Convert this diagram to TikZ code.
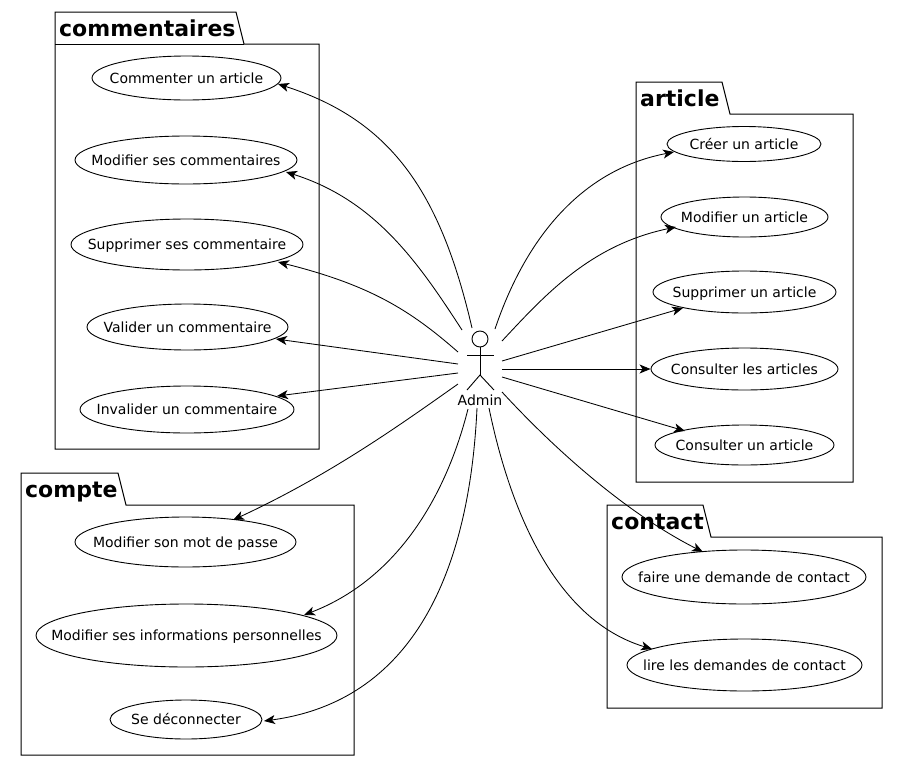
\documentclass[tikz,border=0pt]{standalone}
\usepackage{fontspec}
\setmainfont{DejaVu Sans}
\usetikzlibrary{arrows.meta,shapes.geometric}
\tikzset{
  uc/.style={draw=black,ellipse,inner sep=0pt,line width=0.9pt,font=\fontsize{14}{16}\selectfont},
  pkg/.style={draw=black,line width=1pt},
  pkgtitle/.style={anchor=base west,inner sep=0pt,font=\fontsize{22}{24}\selectfont\bfseries},
  link/.style={draw=black,line width=0.85pt,-{Stealth[length=11pt,width=9pt,inset=3pt]}},
  stick/.style={draw=black,line width=0.9pt}
}
\newcommand{\ucnode}[6]{\node[uc,minimum width=#4pt,minimum height=#5pt] (#1) at (#2,#3) {\makebox[0pt]{\raisebox{-.36em}[0pt][0pt]{#6}}};}
\begin{document}
\begin{tikzpicture}[x=1pt,y=-1pt]
\useasboundingbox (0,0) rectangle (898,761);
% packages
\draw[pkg] (55,44) -- (55,12) -- (236,12) -- (244,44) -- (319,44) -- (319,449) -- (55,449) -- cycle;
\draw[pkg] (55,44) -- (244,44);
\node[pkgtitle] (tcomm) at (59,36) {commentaires};
\draw[pkg] (21,505) -- (21,473) -- (118,473) -- (126,505) -- (354,505) -- (354,755) -- (21,755) -- cycle;
\node[pkgtitle] (tcompte) at (25,497) {compte};
\draw[pkg] (636,114) -- (636,82) -- (722,82) -- (730,114) -- (853,114) -- (853,482) -- (636,482) -- cycle;
\node[pkgtitle] (tarticle) at (640,106) {article};
\draw[pkg] (607,537) -- (607,505) -- (703,505) -- (711,537) -- (882,537) -- (882,708) -- (607,708) -- cycle;
\node[pkgtitle] (tcontact) at (611,529) {contact};
% use cases
\ucnode{a1}{186.5}{78}{189}{44}{Commenter un article}
\ucnode{a2}{186}{160}{222}{48}{Modifier ses commentaires}
\ucnode{a3}{187}{244.5}{232}{51}{Supprimer ses commentaire}
\ucnode{a4}{187.5}{327}{201}{46}{Valider un commentaire}
\ucnode{a5}{187}{409.5}{214}{47}{Invalider un commentaire}
\ucnode{b1}{185.5}{542}{221}{50}{Modifier son mot de passe}
\ucnode{b2}{186.5}{635.5}{301}{63}{Modifier ses informations personnelles}
\ucnode{b3}{186}{719.5}{152}{39}{Se déconnecter}
\ucnode{c1}{744}{144}{154}{35}{Créer un article}
\ucnode{c2}{744.5}{217}{167}{40}{Modifier un article}
\ucnode{c3}{744.5}{292}{183}{42}{Supprimer un article}
\ucnode{c4}{744.5}{369}{187}{42}{Consulter les articles}
\ucnode{c5}{744.5}{445}{179}{40}{Consulter un article}
\ucnode{d1}{744}{577}{244}{54}{faire une demande de contact}
\ucnode{d2}{744.5}{665}{235}{52}{lire les demandes de contact}
% actor
\node[draw=black,circle,line width=0.9pt,minimum size=16pt,inner sep=0pt] (head) at (480,339) {};
\coordinate (hip) at (480,375);
\draw[stick] (head.south) -- (hip);
\coordinate (larm) at (467,355); \coordinate (rarm) at (494,355);
\draw[stick] (larm) -- (rarm);
\coordinate (lleg) at (467,390); \coordinate (rleg) at (494,390);
\draw[stick] (lleg) -- (hip) -- (rleg);
\node[inner sep=0pt,font=\fontsize{14}{16}\selectfont] (admin) at (480,400) {Admin};
% start points
\coordinate (s1) at (472,328);
\coordinate (s2) at (462,330);
\coordinate (s3) at (458,352);
\coordinate (s4) at (458,364);
\coordinate (s5) at (458,373);
\coordinate (s6) at (458,384);
\coordinate (s7) at (468,409);
\coordinate (s8) at (477,408);
\coordinate (s9) at (495,329);
\coordinate (s10) at (502,341);
\coordinate (s11) at (502,361);
\coordinate (s12) at (502,369);
\coordinate (s13) at (502,377);
\coordinate (s14) at (502,392);
\coordinate (s15) at (489,408);
% end points on the ellipses
\coordinate (e1) at (278,84);
\coordinate (e2) at (286,172);
\coordinate (e3) at (278,262);
\coordinate (e4) at (276,339);
\coordinate (e5) at (277,396);
\coordinate (e6) at (233,520);
\coordinate (e7) at (304,615);
\coordinate (e8) at (264,721);
\coordinate (e9) at (674,152);
\coordinate (e10) at (676,227);
\coordinate (e11) at (683,308);
\coordinate (e13) at (685,431);
\coordinate (e14) at (703,552);
\coordinate (e15) at (652,649);
% links
\draw[link] (s1) .. controls (440,190) and (390,120) .. (e1);
\draw[link] (s2) .. controls (418,262) and (375,200) .. (e2);
\draw[link] (s3) .. controls (410,310) and (370,285) .. (e3);
\draw[link] (s4) -- (e4);
\draw[link] (s5) -- (e5);
\draw[link] (s6) .. controls (400,425) and (330,475) .. (e6);
\draw[link] (s7) .. controls (445,500) and (395,580) .. (e7);
\draw[link] (s8) .. controls (470,560) and (420,700) .. (e8);
\draw[link] (s9) .. controls (525,240) and (580,170) .. (e9);
\draw[link] (s10) .. controls (545,295) and (590,245) .. (e10);
\draw[link] (s11) -- (e11);
\draw[link] (s12) -- (c4.west);
\draw[link] (s13) -- (e13);
\draw[link] (s14) .. controls (560,455) and (630,515) .. (e14);
\draw[link] (s15) .. controls (510,510) and (555,620) .. (e15);
\end{tikzpicture}
\end{document}
